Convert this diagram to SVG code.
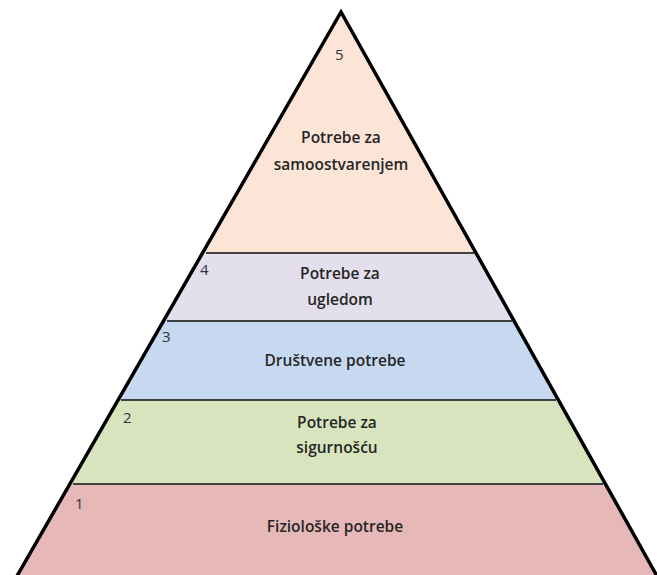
<svg xmlns="http://www.w3.org/2000/svg" width="657" height="575" viewBox="0 0 657 575">
<style>
.lbl{font-family:"Open Sans","Liberation Sans",sans-serif;font-size:15.5px;font-weight:600;fill:#262626;text-anchor:middle}
.num{font-family:"Open Sans","Liberation Sans",sans-serif;font-size:15px;fill:#2f3340}
.sep{stroke:#404040;stroke-width:2;fill:none}
</style>
<rect width="657" height="575" fill="#ffffff"/>
<g id="level5">
<polygon points="341,12 202.3,253 476.2,253" fill="#fce4d6"/>
<text class="num" x="335" y="60">5</text>
<text class="lbl" x="341" y="143">Potrebe za</text>
<text class="lbl" x="341" y="170">samoostvarenjem</text>
</g>
<g id="level4">
<polygon points="202.3,253 476.2,253 514.3,321 163.2,321" fill="#e4dfec"/>
<text class="num" x="200" y="275">4</text>
<text class="lbl" x="340" y="279">Potrebe za</text>
<text class="lbl" x="340" y="305">ugledom</text>
</g>
<g id="level3">
<polygon points="163.2,321 514.3,321 558.7,400 117.7,400" fill="#c6d9f1"/>
<text class="num" x="162" y="342">3</text>
<text class="lbl" x="335" y="366">Društvene potrebe</text>
</g>
<g id="level2">
<polygon points="117.7,400 558.7,400 605.8,484 69.4,484" fill="#d8e4bd"/>
<text class="num" x="123" y="423">2</text>
<text class="lbl" x="337" y="428">Potrebe za</text>
<text class="lbl" x="337" y="453">sigurnošću</text>
</g>
<g id="level1">
<polygon points="69.4,484 605.8,484 657,575 17,575" fill="#e6b9b8"/>
<text class="num" x="75" y="509">1</text>
<text class="lbl" x="335" y="532">Fiziološke potrebe</text>
</g>
<g id="connectors">
<line class="sep" x1="206" y1="253" x2="474" y2="253"/>
<line class="sep" x1="167" y1="321" x2="512" y2="321"/>
<line class="sep" x1="121" y1="400" x2="556" y2="400"/>
<line class="sep" x1="73" y1="484" x2="603" y2="484"/>
<polyline points="17,576 341,12 657,576" fill="none" stroke="#000" stroke-width="3.5" stroke-linejoin="miter"/>
</g>
</svg>
